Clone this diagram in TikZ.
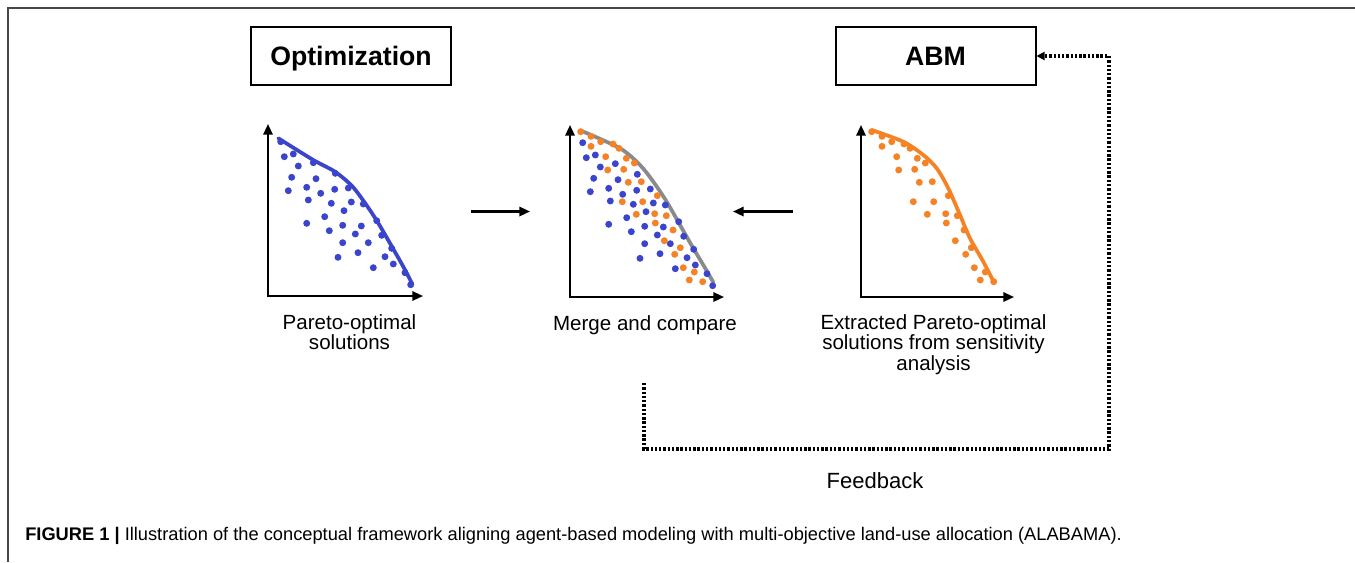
\documentclass[tikz,border=0pt]{standalone}
\usepackage{fontspec}
\setmainfont{Liberation Sans}
\newfontfamily\capfont{Liberation Sans}
\usetikzlibrary{arrows.meta}

\definecolor{dotblue}{RGB}{58,68,204}
\definecolor{dotorange}{RGB}{246,130,38}
\definecolor{curvegray}{RGB}{138,138,138}
\definecolor{framegray}{RGB}{72,72,72}

\begin{document}
\begin{tikzpicture}[x=0.75pt, y=-0.75pt,
	titlebox/.style={draw, line width=1.5pt, minimum width=150pt, minimum height=43.5pt, inner sep=0pt, text depth=0pt, font=\fontsize{20}{24}\selectfont\bfseries},
	plotlabel/.style={inner sep=0pt, align=center, font=\fontsize{15.4}{15.4}\selectfont},
	axis/.style={line width=1.6pt, line join=miter, {Triangle[length=8pt, width=7pt]}-{Triangle[length=8pt, width=7pt]}},
	flow/.style={line width=1.6pt, -{Triangle[length=8pt, width=7pt]}},
	feedback/.style={line width=2.4pt, dash pattern=on 1.8pt off 1.4pt, -{Triangle[length=6pt, width=6pt]}},
	curve/.style={line width=2.8pt, line cap=round},
	]

		\useasboundingbox (0,0) rectangle (1355,562);
		\fill[white] (0,0) rectangle (1355,562);
		\draw[framegray, line width=1.1pt] (8,562) -- (8,8) -- (1355,8);


		\node[titlebox] (optbox) at (351,56) {Optimization};
		\node[titlebox] (abmbox) at (935.5,56) {ABM};


		\begin{scope}[shift={(268,296)}, yscale=-1]
			\draw[axis] (0,172) -- (0,0) -- (155,0);
			\draw[curve, dotblue] plot[smooth] coordinates {(10.3,157.7) (45.3,136) (67,124.3) (84,110) (97,93) (109,75) (122,52.7) (135.3,29.3) (144.3,12)};
			\fill[dotblue] (12.7,154.3) circle (2.6pt) (16.3,139.3) circle (2.6pt) (25.3,142) circle (2.6pt) (30.3,130) circle (2.6pt) (45.3,133.3) circle (2.6pt) (23.7,118.7) circle (2.6pt)
				(20.3,105.3) circle (2.6pt) (48,117.3) circle (2.6pt) (38.7,108.7) circle (2.6pt) (67.3,122.7) circle (2.6pt) (52.7,102.7) circle (2.6pt) (66.7,106.7) circle (2.6pt)
				(80.3,108) circle (2.6pt) (40.3,96) circle (2.6pt) (63.3,92.7) circle (2.6pt) (83.3,94) circle (2.6pt) (95.3,92) circle (2.6pt) (76,85.3) circle (2.6pt)
				(56.7,79.3) circle (2.6pt) (38.7,72.7) circle (2.6pt) (61.3,65.3) circle (2.6pt) (74.7,70.7) circle (2.6pt) (93.3,70) circle (2.6pt) (108.7,75.3) circle (2.6pt)
				(87.3,62) circle (2.6pt) (113.7,60.7) circle (2.6pt) (74.7,53.3) circle (2.6pt) (100.3,53.3) circle (2.6pt) (123.7,47.7) circle (2.6pt) (70,38.7) circle (2.6pt)
				(90,43.3) circle (2.6pt) (117,39.3) circle (2.6pt) (125.3,32) circle (2.6pt) (105.3,28.3) circle (2.6pt) (137,23.3) circle (2.6pt) (142.7,11.3) circle (2.6pt);
		\end{scope}

		\begin{scope}[shift={(570,297)}, yscale=-1]
			\draw[axis] (0,172) -- (0,0) -- (154,0);
			\draw[curve, curvegray] plot[smooth] coordinates {(11,166.3) (50,148.7) (70,132) (83.3,115.3) (96.7,95.3) (110,72) (123.3,48.7) (133.3,32) (143.3,14.7)};
			\fill[dotblue] (12.7,154.3) circle (2.6pt) (16.3,139.3) circle (2.6pt) (25.3,142) circle (2.6pt) (30.3,130) circle (2.6pt) (45.3,133.3) circle (2.6pt) (23.7,118.7) circle (2.6pt)
				(20.3,105.3) circle (2.6pt) (48,117.3) circle (2.6pt) (38.7,108.7) circle (2.6pt) (67.3,122.7) circle (2.6pt) (52.7,102.7) circle (2.6pt) (66.7,106.7) circle (2.6pt)
				(80.3,108) circle (2.6pt) (40.3,96) circle (2.6pt) (63.3,92.7) circle (2.6pt) (83.3,94) circle (2.6pt) (95.3,92) circle (2.6pt) (76,85.3) circle (2.6pt)
				(56.7,79.3) circle (2.6pt) (38.7,72.7) circle (2.6pt) (61.3,65.3) circle (2.6pt) (74.7,70.7) circle (2.6pt) (93.3,70) circle (2.6pt) (108.7,75.3) circle (2.6pt)
				(87.3,62) circle (2.6pt) (113.7,60.7) circle (2.6pt) (74.7,53.3) circle (2.6pt) (100.3,53.3) circle (2.6pt) (123.7,47.7) circle (2.6pt) (70,38.7) circle (2.6pt)
				(90,43.3) circle (2.6pt) (117,39.3) circle (2.6pt) (125.3,32) circle (2.6pt) (105.3,28.3) circle (2.6pt) (137,23.3) circle (2.6pt) (142.7,11.3) circle (2.6pt);
			\fill[dotorange] (10.7,165.3) circle (2.6pt) (21,160.7) circle (2.6pt) (30.7,155.3) circle (2.6pt) (43,153) circle (2.6pt) (49,148.7) circle (2.6pt) (21,150.7) circle (2.6pt)
				(35.7,140.3) circle (2.6pt) (56.3,138.7) circle (2.6pt) (64.3,134) circle (2.6pt) (37.7,127) circle (2.6pt) (53.7,127.7) circle (2.6pt) (58.3,114.7) circle (2.6pt)
				(71.3,115.3) circle (2.6pt) (87.3,101.3) circle (2.6pt) (52.3,95.3) circle (2.6pt) (72.7,95.3) circle (2.6pt) (66.3,82.7) circle (2.6pt) (84.7,83.3) circle (2.6pt)
				(96.3,81.3) circle (2.6pt) (85.3,74) circle (2.6pt) (103,67) circle (2.6pt) (94.3,56.3) circle (2.6pt) (110.3,49.3) circle (2.6pt) (104.7,42.7) circle (2.6pt)
				(113.3,29.3) circle (2.6pt) (124.3,25) circle (2.6pt) (119.3,17) circle (2.6pt) (132.7,15.3) circle (2.6pt);
		\end{scope}

		\begin{scope}[shift={(861,297)}, yscale=-1]
			\draw[axis] (0,172) -- (0,0) -- (153,0);
			\draw[curve, dotorange] plot[smooth] coordinates {(10.7,167) (42.3,155.3) (62.3,142) (75.7,128.7) (87.3,108.7) (99,82) (109,58.7) (122.3,35.3) (132.3,16)};
			\fill[dotorange] (10.7,165.3) circle (2.6pt) (21,160.7) circle (2.6pt) (30.7,155.3) circle (2.6pt) (43,153) circle (2.6pt) (49,148.7) circle (2.6pt) (21,150.7) circle (2.6pt)
				(35.7,140.3) circle (2.6pt) (56.3,138.7) circle (2.6pt) (64.3,134) circle (2.6pt) (37.7,127) circle (2.6pt) (53.7,127.7) circle (2.6pt) (58.3,114.7) circle (2.6pt)
				(71.3,115.3) circle (2.6pt) (87.3,101.3) circle (2.6pt) (52.3,95.3) circle (2.6pt) (72.7,95.3) circle (2.6pt) (66.3,82.7) circle (2.6pt) (84.7,83.3) circle (2.6pt)
				(96.3,81.3) circle (2.6pt) (85.3,74) circle (2.6pt) (103,67) circle (2.6pt) (94.3,56.3) circle (2.6pt) (110.3,49.3) circle (2.6pt) (104.7,42.7) circle (2.6pt)
				(113.3,29.3) circle (2.6pt) (124.3,25) circle (2.6pt) (119.3,17) circle (2.6pt) (132.7,15.3) circle (2.6pt);
		\end{scope}


		\coordinate (p1right) at (471,211.5);
		\coordinate (p2left) at (530,211.5);
		\coordinate (p2right) at (733,211.5);
		\coordinate (p3left) at (793,211.5);
		\draw[flow] (p1right) -- (p2left);
		\draw[flow] (p3left) -- (p2right);


		\node[plotlabel, anchor=north] (lblpareto) at (349.5,314) {Pareto-optimal\\solutions};
		\node[plotlabel, anchor=base] (lblmerge) at (645,330.5) {Merge and compare};
		\node[plotlabel, anchor=north] (lblextract) at (933.5,314) {Extracted Pareto-optimal\\solutions from sensitivity\\analysis};


		\coordinate (fbstart) at (644,383);
		\coordinate (fbcorner) at (1109,449);
		\draw[feedback] (fbstart) |- (fbcorner) |- (abmbox.east);
		\node[inner sep=0pt, anchor=base, font=\fontsize{16.5}{19}\selectfont] (lblfeedback) at (875,488) {Feedback};


		\node[inner sep=0pt, anchor=base west, font=\capfont\fontsize{13.7}{15}\selectfont] (caption) at (25,540) {\textbf{FIGURE 1 |} Illustration of the conceptual framework aligning agent-based modeling with multi-objective land-use allocation (ALABAMA).};

	\end{tikzpicture}
\end{document}
